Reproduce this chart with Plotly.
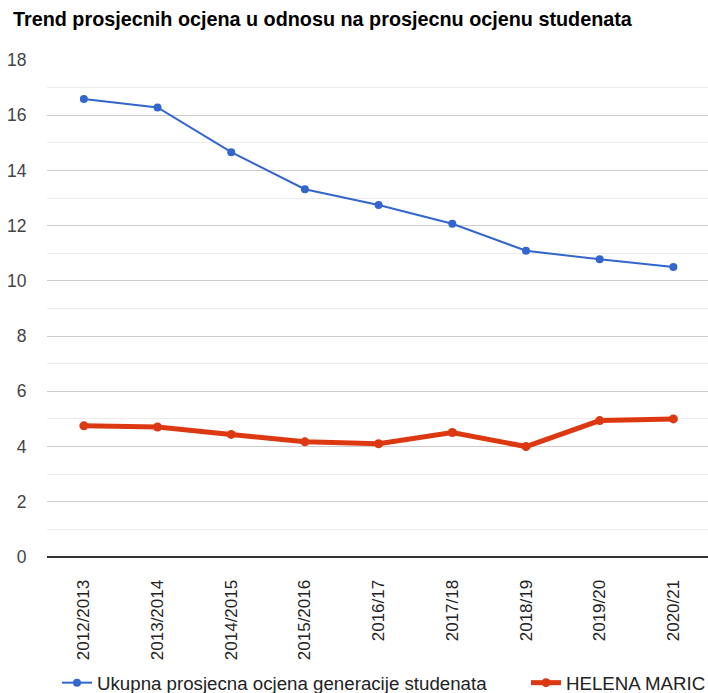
import plotly.graph_objects as go

categories = ["2012/2013", "2013/2014", "2014/2015", "2015/2016", "2016/17",
              "2017/18", "2018/19", "2019/20", "2020/21"]
generation_avg = [16.59, 16.28, 14.66, 13.32, 12.75, 12.07, 11.09, 10.78, 10.50]
student_avg = [4.75, 4.71, 4.44, 4.17, 4.10, 4.51, 4.00, 4.94, 5.00]
series_names = ["Ukupna prosjecna ocjena generacije studenata", "HELENA MARIC"]
title_text = "Trend prosjecnih ocjena u odnosu na prosjecnu ocjenu studenata"
y_ticks = [0, 2, 4, 6, 8, 10, 12, 14, 16, 18]

FONT = "Arial, 'Liberation Sans', sans-serif"
W, H = 708, 693

fig = go.Figure()
fig.add_trace(go.Scatter(
    x=categories, y=generation_avg, name=series_names[0], mode="lines+markers",
    line=dict(color="#3366cc", width=2), marker=dict(color="#3366cc", size=8),
    legend="legend",
))
fig.add_trace(go.Scatter(
    x=categories, y=student_avg, name=series_names[1], mode="lines+markers",
    line=dict(color="#dc3912", width=5), marker=dict(color="#dc3912", size=9),
    legend="legend2",
))

fig.update_layout(
    width=W, height=H,
    margin=dict(l=47, r=0, t=60, b=136, autoexpand=False),
    paper_bgcolor="white", plot_bgcolor="white",
    font=dict(family=FONT, size=17, color="#222"),
    title=dict(text="<b>" + title_text + "</b>", xref="container", yref="container",
               x=13 / W, xanchor="left", y=1 - 19 / H, yanchor="middle",
               font=dict(family=FONT, size=19.8, color="#000")),
    legend=dict(orientation="h", xref="container", yref="container",
                x=57 / W, xanchor="left", y=1 - 683 / H, yanchor="middle",
                font=dict(family=FONT, size=18.7, color="#222"),
                bgcolor="rgba(0,0,0,0)"),
    legend2=dict(orientation="h", xref="container", yref="container",
                 x=526 / W, xanchor="left", y=1 - 683 / H, yanchor="middle",
                 font=dict(family=FONT, size=18.7, color="#222"),
                 bgcolor="rgba(0,0,0,0)"),
    showlegend=True,
)
fig.update_xaxes(
    type="category", range=[-0.5, 8.47], tickangle=-90, automargin=False,
    showgrid=False, zeroline=False, showline=False,
    ticks="outside", ticklen=15, tickcolor="rgba(0,0,0,0)",
    tickfont=dict(family=FONT, size=17, color="#222"),
)
fig.update_yaxes(
    range=[0, 18], tickvals=y_ticks, automargin=False,
    showgrid=True, gridcolor="#cccccc", gridwidth=1,
    minor=dict(dtick=1, showgrid=True, gridcolor="#ebebeb", gridwidth=1),
    zeroline=True, zerolinecolor="#333333", zerolinewidth=1.5,
    showline=False, ticks="outside", ticklen=16, tickcolor="rgba(0,0,0,0)",
    tickfont=dict(family=FONT, size=17.5, color="#444"),
)

fig.write_html("out.html", config={"displayModeBar": False},
               post_script="document.body.style.margin='0';")
